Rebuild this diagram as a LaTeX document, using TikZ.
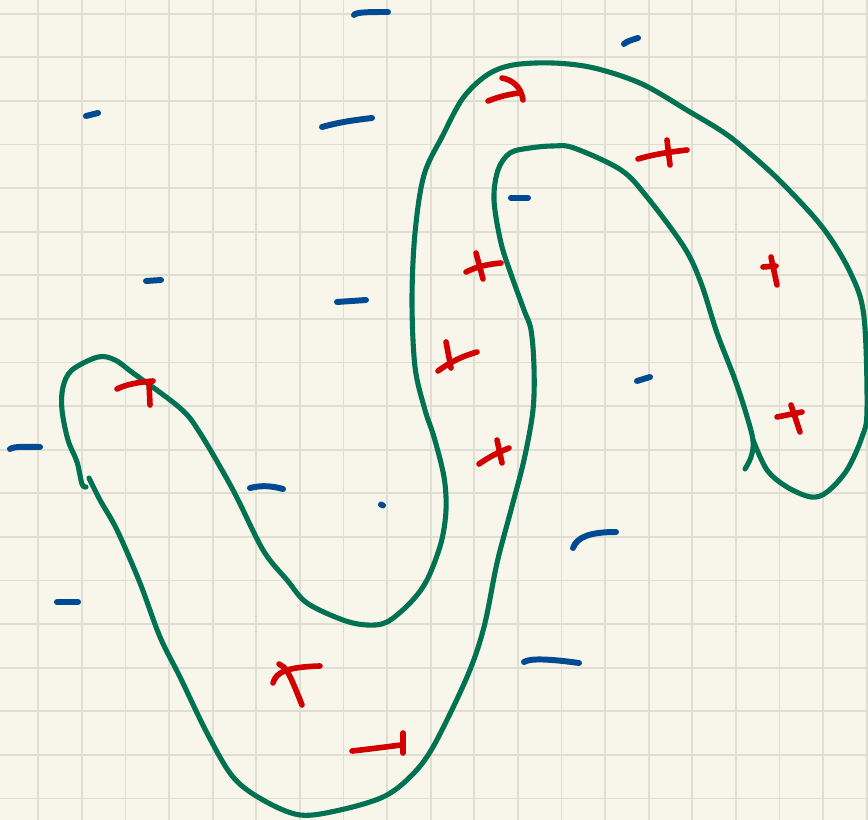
\documentclass[tikz,border=0pt]{standalone}
\definecolor{paper}{RGB}{248,246,234}
\definecolor{gridc}{RGB}{224,222,210}
\definecolor{inkgreen}{RGB}{0,114,82}
\definecolor{inkred}{RGB}{210,0,0}
\definecolor{inkblue}{RGB}{0,74,148}
\tikzset{
  gridline/.style={draw=gridc, line width=1.1pt},
  loopline/.style={draw=inkgreen, line width=2.9pt, line cap=round, line join=round},
  plusmark/.style={draw=inkred, line width=3.2pt, line cap=round, line join=round},
  minusmark/.style={draw=inkblue, line width=3.4pt, line cap=round, line join=round}
}
\begin{document}
\begin{tikzpicture}[x=0.02cm, y=-0.02cm]
\useasboundingbox (0,0) rectangle (868,820);
\fill[paper] (0,0) rectangle (868,820);
\begin{scope}
\clip (0,0) rectangle (868,820);
\foreach \i in {0,...,19} \draw[gridline] ({38.3+43.6*\i},0) -- ++(0,820);
\foreach \i in {0,...,18} \draw[gridline] (0,{13.7+43.6*\i}) -- ++(868,0);
\end{scope}

% green curve, part A
\draw[loopline] plot[smooth, tension=0.55] coordinates {
 (89,478) (100,500) (117,530) (140,583) (160,637) (180,677) (207,733) (233,777)
 (263,800) (300,815) (340,810) (383,797) (410,777) (433,747) (467,677) (484,627)
 (497,563) (511,510) (524,460) (533,410) (534,367) (531,330) (524,310) (512,277)
 (501,243) (494,200) (498,170) (510,153) (530,148) (553,146) (574,148) (621,170) (647,197)
 (684,247) (701,283) (717,333) (734,377) (745,410) (753,440) (751,457) (745,469)};
% green curve, part B
\draw[loopline] plot[smooth, tension=0.55] coordinates {
 (86,487) (82,484) (77,462) (68,440) (62,410) (63,387) (72,370) (98,357)
 (115,360) (133,373) (180,408) (200,433) (233,490) (263,550) (287,580) (307,603)
 (343,620) (367,625) (387,622) (410,603) (427,580) (441,543) (446,510) (444,477)
 (434,437) (425,410) (415,367) (412,300) (415,233) (424,175) (443,135) (463,98)
 (487,75) (513,65) (553,63) (594,68) (642,84) (690,112) (720,130) (740,145)
 (780,181) (823,228) (851,274) (864,317) (867,410) (862,437) (847,470) (827,492) (811,497)
 (787,487) (767,470) (753,440)};

% red plus signs
\draw[plusmark] (117,389) .. controls (127,384) and (140,382) .. (153,381);
\draw[plusmark] (149,383) -- (150,405);
\draw[plusmark] (488,101) .. controls (498,97) and (509,94) .. (520,93);
\draw[plusmark] (502,78) .. controls (512,80) and (521,86) .. (523,100);
\draw[plusmark] (638,159) .. controls (655,154) and (670,152) .. (687,150);
\draw[plusmark] (667,140) -- (670,165);
\draw[plusmark] (763,267) -- (776,266);
\draw[plusmark] (771,257) -- (777,285);
\draw[plusmark] (466,272) .. controls (478,266) and (490,264) .. (501,263);
\draw[plusmark] (476,253) -- (483,279);
\draw[plusmark] (438,371) .. controls (450,362) and (463,356) .. (477,352);
\draw[plusmark] (446,342) -- (451,368);
\draw[plusmark] (479,464) .. controls (489,457) and (499,452) .. (509,448);
\draw[plusmark] (497,440) -- (502,463);
\draw[plusmark] (777,417) -- (802,412);
\draw[plusmark] (791,405) -- (800,432);
\draw[plusmark] (273,683) .. controls (276,672) and (287,667) .. (320,666);
\draw[plusmark] (279,664) .. controls (286,667) and (289,672) .. (302,705);
\draw[plusmark] (352,751) .. controls (370,749) and (385,747) .. (401,745);
\draw[plusmark] (403,733) -- (403,753);

% blue minus signs
\draw[minusmark] (354,15) .. controls (356,12) and (370,12) .. (388,12);
\draw[minusmark] (86,116) -- (98,113);
\draw[minusmark] (322,127) .. controls (340,122) and (355,120) .. (372,118);
\draw[minusmark] (146,281) -- (161,280);
\draw[minusmark] (337,302) -- (366,300);
\draw[minusmark] (511,198) -- (528,198);
\draw[minusmark] (624,44) .. controls (627,41) and (632,40) .. (638,38);
\draw[minusmark] (637,381) -- (650,377);
\draw[minusmark] (10,449) .. controls (15,446) and (25,447) .. (40,447);
\draw[minusmark] (57,602) -- (78,602);
\draw[minusmark] (250,488) .. controls (262,485) and (272,486) .. (283,489);
\draw[minusmark] (381,504.5) -- (383,505.5);
\draw[minusmark] (573,548) .. controls (577,537) and (590,532) .. (616,532);
\draw[minusmark] (524,662) .. controls (530,658) and (550,659) .. (579,663);
\end{tikzpicture}
\end{document}
